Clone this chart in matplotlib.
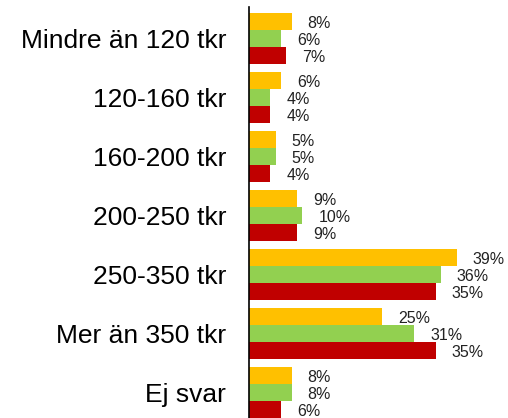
import matplotlib
matplotlib.use("Agg")
import matplotlib.pyplot as plt
import numpy as np

plt.rcParams['font.family'] = ['Liberation Sans', 'DejaVu Sans']

categories = ["Mindre än 120 tkr", "120-160 tkr", "160-200 tkr", "200-250 tkr",
              "250-350 tkr", "Mer än 350 tkr", "Ej svar"]
series_yellow = [8, 6, 5, 9, 39, 25, 8]
series_green = [6, 4, 5, 10, 36, 31, 8]
series_red = [7, 4, 4, 9, 35, 35, 6]

colors = ["#FFC000", "#92D050", "#C00000"]
series = [series_yellow, series_green, series_red]

fig = plt.figure(figsize=(5.08, 4.18), dpi=100)
ax = fig.add_axes([249/508, 0.0, (508-249)/508, 1 - 7/418])

y = np.arange(len(categories))
h = 17/59
offsets = [-h, 0, h]
for vals, col, off in zip(series, colors, offsets):
    bars = ax.barh(y + off, vals, height=h, color=col)
    for b, v in zip(bars, vals):
        ax.annotate(f"{v}%", (b.get_width(), b.get_y() + b.get_height()/2),
                    xytext=(16, -2), textcoords="offset pixels",
                    ha="left", va="center", fontsize=11.5, color="#222222")

ax.set_xlim(0, 48.6)
ax.set_ylim(6.432, -0.534)
ax.set_yticks(y)
ax.set_yticklabels(categories, fontsize=19)
ax.tick_params(axis='y', length=0, pad=16.5)
ax.set_xticks([])
for s in ["top", "right", "bottom"]:
    ax.spines[s].set_visible(False)
ax.spines["left"].set_color("black")
ax.spines["left"].set_linewidth(1.2)

fig.savefig("out.png", dpi=100)
